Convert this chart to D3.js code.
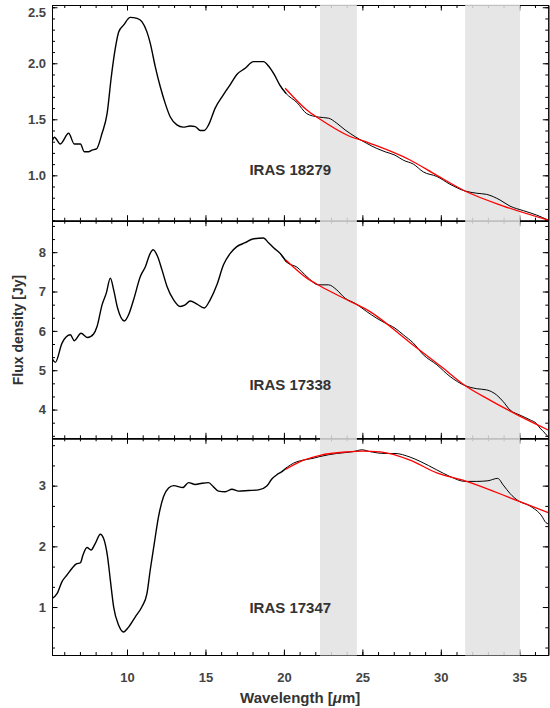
<!DOCTYPE html>
<html>
<head>
<meta charset="utf-8">
<script src="https://cdn.jsdelivr.net/npm/d3@7/dist/d3.min.js"></script>
<style>
    body { margin: 0; background: #fff; }
    svg { display: block; }
    .axis text { font-family: "Liberation Sans", Arial, Helvetica, sans-serif; font-weight: bold; font-size: 13px; fill: #444; }
    .axis path, .axis line { stroke: #000; stroke-width: 1; }
    .label { font-family: "Liberation Sans", Arial, Helvetica, sans-serif; font-weight: bold; fill: #333; }
</style>
</head>
<body>
<svg id="svg" width="550" height="708"></svg>
<script>
// x axis ticks (wavelength, micron)
var xMajor = [10, 15, 20, 25, 30, 35];
var xMinor = d3.range(6, 37);

// grey bands marking the masked wavelength ranges
var bands = [[22.3, 24.65], [31.55, 35.05]];

// y ticks of each panel
var yMajor18279 = [1.0, 1.5, 2.0, 2.5];
var yMinor18279 = d3.range(6, 26).map(function (d) { return d / 10; });
var yMajor17338 = [4, 5, 6, 7, 8];
var yMinor17338 = d3.range(10, 27).map(function (d) { return d / 3; });
var yMajor17347 = [1, 2, 3];
var yMinor17347 = d3.range(1, 12).map(function (d) { return d / 3; });

// spectra [wavelength, flux]
var spec18279 = [[5.22,1.30],[5.37,1.34],[5.75,1.28],[6.28,1.375],[6.64,1.28],[7.03,1.28],[7.28,1.21],[7.55,1.21],
    [7.77,1.225],[8.05,1.235],[8.41,1.375],[8.73,1.55],[9.0,1.88],[9.25,2.13],[9.47,2.28],[9.78,2.34],[10.21,2.41],
    [10.64,2.40],[10.96,2.37],[11.27,2.28],[11.48,2.18],[11.8,1.97],[12.12,1.79],[12.44,1.64],[12.76,1.52],[13.18,1.45],
    [13.57,1.43],[14.03,1.44],[14.35,1.435],[14.67,1.40],[14.92,1.40],[15.2,1.45],[15.62,1.60],[16.15,1.72],[16.58,1.81],
    [17.0,1.90],[17.53,1.955],[18.06,2.015],[18.7,2.015],[19.02,1.975],[19.38,1.90],[19.76,1.80],[20.14,1.73],[20.83,1.65],
    [21.46,1.55],[22.2,1.52],[22.84,1.51],[23.37,1.465],[23.9,1.405],[24.54,1.345],[25.28,1.285],[25.92,1.24],[26.45,1.21],
    [27.08,1.18],[27.61,1.135],[28.25,1.10],[28.89,1.03],[29.74,0.99],[30.59,0.92],[31.54,0.86],[32.29,0.84],[32.92,0.83],
    [33.77,0.78],[34.41,0.725],[35.25,0.685],[36.11,0.645],[36.85,0.60]];
var fit18279 = [[20.08,1.777],[21.46,1.583],[22.31,1.50],[24.01,1.36],[25.49,1.286],[28.04,1.137],[29.74,1.0],
    [31.54,0.86],[33.98,0.726],[36.85,0.60]];

var spec17338 = [[5.22,5.30],[5.43,5.20],[5.86,5.69],[6.39,5.90],[6.64,5.75],[7.07,5.94],[7.49,5.83],[7.87,5.92],
    [8.09,6.11],[8.41,6.66],[8.68,6.96],[8.94,7.34],[9.15,7.04],[9.40,6.58],[9.83,6.25],[10.10,6.41],[10.42,6.79],
    [10.85,7.38],[11.17,7.63],[11.48,7.97],[11.66,8.06],[11.95,7.89],[12.23,7.55],[12.55,7.13],[12.97,6.79],[13.39,6.62],
    [13.71,6.66],[14.03,6.76],[14.46,6.68],[14.92,6.58],[15.3,6.79],[15.73,7.17],[16.15,7.68],[16.58,7.97],[17.0,8.14],
    [17.53,8.24],[17.96,8.33],[18.7,8.36],[19.02,8.24],[19.38,8.10],[19.76,7.97],[20.19,7.74],[20.83,7.62],[21.46,7.38],
    [22.2,7.17],[22.84,7.17],[23.37,7.04],[23.9,6.83],[24.54,6.70],[25.28,6.49],[25.92,6.32],[26.45,6.20],[27.08,6.07],
    [27.61,5.90],[28.25,5.69],[28.89,5.39],[29.74,5.14],[30.59,4.84],[31.54,4.61],[32.29,4.53],[32.92,4.50],[33.56,4.37],
    [33.98,4.20],[34.41,3.99],[35.04,3.86],[35.68,3.74],[36.11,3.64],[36.32,3.53],[36.64,3.40],[36.85,3.30]];
var fit17338 = [[20.12,7.80],[21.46,7.34],[22.31,7.14],[24.01,6.79],[25.49,6.49],[28.04,5.70],[30.06,5.08],
    [31.54,4.61],[33.13,4.24],[35.0,3.84],[36.85,3.48]];

var spec17347 = [[5.22,1.14],[5.54,1.22],[5.86,1.42],[6.18,1.53],[6.5,1.64],[6.77,1.71],[7.03,1.73],[7.2,1.86],
    [7.45,1.98],[7.71,1.94],[7.98,2.05],[8.3,2.20],[8.51,2.13],[8.76,1.83],[8.94,1.44],[9.15,1.00],[9.47,0.70],
    [9.78,0.59],[10.1,0.67],[10.53,0.84],[10.96,1.01],[11.27,1.22],[11.48,1.61],[11.74,2.05],[12.01,2.49],[12.33,2.82],
    [12.65,2.96],[12.97,3.00],[13.57,2.97],[13.92,3.05],[14.35,3.02],[14.78,3.04],[15.2,3.05],[15.51,2.98],[15.83,2.91],
    [16.26,2.90],[16.69,2.94],[17.11,2.91],[17.74,2.92],[18.38,2.93],[18.91,2.995],[19.23,3.11],[19.55,3.18],[19.87,3.23],
    [20.19,3.30],[20.61,3.37],[21.04,3.41],[21.86,3.45],[22.3,3.48],[23.37,3.53],[24.41,3.56],[24.98,3.59],[25.49,3.56],
    [26.45,3.53],[27.08,3.53],[28.04,3.47],[28.68,3.40],[29.74,3.26],[30.59,3.15],[31.54,3.07],[32.29,3.07],[33.0,3.08],
    [33.62,3.12],[33.98,3.01],[34.41,2.87],[34.94,2.75],[35.68,2.665],[36.43,2.50],[36.7,2.39],[36.85,2.37]];
var fit17347 = [[20.12,3.27],[21.25,3.42],[22.31,3.50],[24.01,3.556],[25.0,3.57],[26.13,3.556],[28.04,3.42],
    [29.74,3.21],[31.54,3.08],[35.0,2.74],[36.85,2.555]];

var names = ["IRAS 18279", "IRAS 17338", "IRAS 17347"];

var svg = d3.select("svg"),
    left = 52, right = 548.3,
    edges = [5, 220.7, 438.3, 655];

var x = d3.scaleLinear().domain([5.22, 36.85]).range([left, right]);

var panels = [
    {name: names[0], spec: spec18279, fit: fit18279, domain: [0.595, 2.52], major: yMajor18279, minor: yMinor18279,
        fmt: d3.format(".1f"), label: [17.8, 1.0]},
    {name: names[1], spec: spec17338, fit: fit17338, domain: [3.27, 8.8], major: yMajor17338, minor: yMinor17338,
        fmt: d3.format("d"), label: [17.8, 4.5]},
    {name: names[2], spec: spec17347, fit: fit17347, domain: [0.21, 3.78], major: yMajor17347, minor: yMinor17347,
        fmt: d3.format("d"), label: [17.8, 0.9]}
];

var axesLayer = svg.append("g"),
    bandLayer = svg.append("g"),
    lineLayer = svg.append("g");

// box with inward ticks on all four sides
function draw_axes(g, y, p, top, bottom, last) {
    var sides = [
        {axis: d3.axisBottom(x), t: "translate(0," + bottom + ")", major: xMajor, minor: xMinor, labels: last},
        {axis: d3.axisTop(x), t: "translate(0," + top + ")", major: xMajor, minor: xMinor, labels: false},
        {axis: d3.axisLeft(y), t: "translate(" + left + ",0)", major: p.major, minor: p.minor, labels: true},
        {axis: d3.axisRight(y), t: "translate(" + right + ",0)", major: p.major, minor: p.minor, labels: false}
    ];
    sides.forEach(function (s, k) {
        var isX = k < 2;
        g.append("g")
            .attr("class", "axis")
            .attr("transform", s.t)
            .call(s.axis.tickValues(s.minor).tickSize(-3).tickSizeOuter(0).tickFormat(""));
        var a = g.append("g")
            .attr("class", "axis")
            .attr("transform", s.t)
            .call(s.axis.tickValues(s.major).tickSize(-5.5).tickSizeOuter(0)
                .tickPadding(isX ? 18 : 6)
                .tickFormat(s.labels ? (isX ? d3.format("d") : p.fmt) : ""));
        if (!isX && s.labels) {
            // keep the top label inside the box
            a.selectAll(".tick text").attr("transform", function (d) {
                return "translate(0," + Math.max(0, top + 7.5 - y(d)) + ")";
            });
        }
    });
}

var line = d3.line()
    .x(function (d) { return x(d[0]); })
    .curve(d3.curveMonotoneX);

panels.forEach(function (p, i) {
    var top = edges[i], bottom = edges[i + 1];
    var y = d3.scaleLinear().domain(p.domain).range([bottom, top]);

    draw_axes(axesLayer, y, p, top, bottom, i === panels.length - 1);

    svg.append("clipPath").attr("id", "clip" + i)
        .append("rect")
        .attr("x", left).attr("y", top)
        .attr("width", right - left).attr("height", bottom - top);

    var g = lineLayer.append("g").attr("clip-path", "url(#clip" + i + ")");
    line.y(function (d) { return y(d[1]); });

    // spectrum is drawn thicker below 20 micron, thinner where the fit runs
    var split = p.fit[0][0];
    g.append("path")
        .datum(p.spec.filter(function (d) { return d[0] <= split + 0.2; }))
        .attr("fill", "none")
        .attr("stroke", "#000")
        .attr("stroke-width", 1.4)
        .attr("stroke-linejoin", "round")
        .attr("d", line);

    g.append("path")
        .datum(p.spec.filter(function (d) { return d[0] >= split - 0.5; }))
        .attr("fill", "none")
        .attr("stroke", "#000")
        .attr("stroke-width", 1.0)
        .attr("stroke-linejoin", "round")
        .attr("d", line);

    g.append("path")
        .datum(p.fit)
        .attr("fill", "none")
        .attr("stroke", "#f00")
        .attr("stroke-width", 1.3)
        .attr("d", line);

    lineLayer.append("text")
        .attr("class", "label")
        .attr("x", x(p.label[0]))
        .attr("y", y(p.label[1]))
        .style("font-size", "15px")
        .text(p.name);
});

// shaded ranges over the axes, under the spectra
bandLayer.selectAll("rect")
    .data(bands)
    .enter().append("rect")
    .attr("x", function (d) { return x(d[0]); })
    .attr("width", function (d) { return x(d[1]) - x(d[0]); })
    .attr("y", edges[0] - 0.5)
    .attr("height", edges[3] - edges[0] + 1)
    .attr("fill", "#e2e2e2")
    .attr("fill-opacity", 0.85);

// axis titles
var title = svg.append("text")
    .attr("class", "label")
    .attr("x", (left + right) / 2)
    .attr("y", 703)
    .attr("text-anchor", "middle")
    .style("font-size", "15px");
title.append("tspan").text("Wavelength [");
title.append("tspan").style("font-style", "italic").text("\u03bc");
title.append("tspan").text("m]");

svg.append("text")
    .attr("class", "label")
    .attr("transform", "translate(23," + (edges[0] + edges[3]) / 2 + ") rotate(-90)")
    .attr("text-anchor", "middle")
    .style("font-size", "14px")
    .text("Flux density [Jy]");
</script>
</body>
</html>
